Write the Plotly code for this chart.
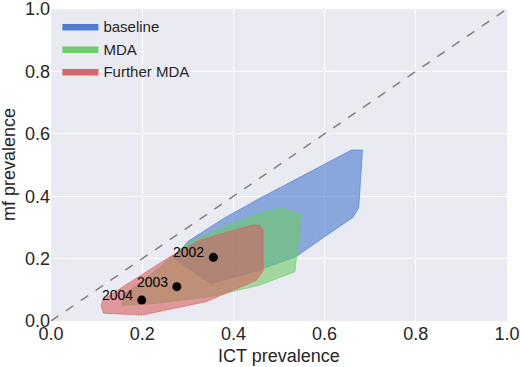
import plotly.graph_objects as go

# data
baseline_x = [0.27, 0.30, 0.38, 0.459, 0.659, 0.683, 0.675, 0.662, 0.60, 0.537, 0.45, 0.35, 0.27]
baseline_y = [0.20, 0.255, 0.33, 0.394, 0.548, 0.548, 0.364, 0.332, 0.27, 0.206, 0.16, 0.12, 0.20]
mda_x = [0.155, 0.16, 0.22, 0.30, 0.40, 0.458, 0.485, 0.509, 0.548, 0.535, 0.458, 0.35, 0.22, 0.155]
mda_y = [0.05, 0.085, 0.15, 0.25, 0.315, 0.346, 0.356, 0.361, 0.342, 0.158, 0.115, 0.078, 0.055, 0.05]
further_x = [0.11, 0.114, 0.158, 0.261, 0.327, 0.443, 0.458, 0.465, 0.465, 0.45, 0.34, 0.2, 0.115, 0.11]
further_y = [0.05, 0.067, 0.11, 0.206, 0.26, 0.308, 0.306, 0.29, 0.16, 0.13, 0.062, 0.019, 0.025, 0.05]
years = ["2002", "2003", "2004"]
ict = [0.356, 0.276, 0.199]
mf = [0.204, 0.110, 0.067]
tick_vals = [0, 0.2, 0.4, 0.6, 0.8, 1.0]
tick_text = ["0.0", "0.2", "0.4", "0.6", "0.8", "1.0"]

FONT = "Liberation Sans, Arial, sans-serif"
fig = go.Figure()

fig.add_trace(go.Scatter(x=[0, 1], y=[0, 1], mode="lines",
                         line=dict(color="#808080", dash="dash", width=1.5),
                         showlegend=False, hoverinfo="skip"))

series = [
    ("baseline", baseline_x, baseline_y, (72, 120, 207)),
    ("MDA", mda_x, mda_y, (106, 204, 101)),
    ("Further MDA", further_x, further_y, (214, 95, 95)),
]
for name, xs, ys, (r, g, b) in series:
    fig.add_trace(go.Scatter(x=xs, y=ys, mode="lines", fill="toself", name=name,
                             legendgroup=name, showlegend=False,
                             fillcolor=f"rgba({r},{g},{b},0.6)",
                             line=dict(color=f"rgba({r},{g},{b},0.6)", width=1)))
# legend entries with solid patches
for name, xs, ys, (r, g, b) in series:
    fig.add_trace(go.Scatter(x=[None], y=[None], mode="lines", fill="toself", name=name,
                             legendgroup=name, showlegend=True,
                             fillcolor=f"rgba({r},{g},{b},0.95)",
                             line=dict(color=f"rgba({r},{g},{b},0.95)", width=1)))

fig.add_trace(go.Scatter(x=ict, y=mf, mode="markers",
                         marker=dict(color="black", size=9), showlegend=False))

for yr, xv, yv in zip(years, ict, mf):
    fig.add_annotation(x=xv, y=yv, text=yr, showarrow=False, xanchor="right",
                       yanchor="middle", xshift=-7, yshift=5,
                       font=dict(family=FONT, size=14, color="black"))

# axis titles
fig.add_annotation(text="ICT prevalence", xref="paper", yref="paper", x=0.5, y=0,
                   yshift=-35, xanchor="center", yanchor="middle", showarrow=False,
                   font=dict(family=FONT, size=18, color="#262626"))
fig.add_annotation(text="mf prevalence", xref="paper", yref="paper", x=0, y=0.5,
                   xshift=-42, xanchor="center", yanchor="middle", showarrow=False,
                   textangle=-90, font=dict(family=FONT, size=18, color="#262626"))

axis_common = dict(range=[0, 1], tickvals=tick_vals, ticktext=tick_text,
                   showgrid=True, gridcolor="white", gridwidth=1.2,
                   zeroline=False, showline=False, ticks="", automargin=False,
                   ticklabeloverflow="allow",
                   tickfont=dict(family=FONT, size=18, color="#262626"))

fig.update_layout(
    width=520, height=367,
    margin=dict(l=51, r=13, t=9, b=46),
    paper_bgcolor="white", plot_bgcolor="#EAEAF2",
    font=dict(family=FONT, color="#262626"),
    xaxis=dict(**axis_common),
    yaxis=dict(**axis_common),
    legend=dict(x=0.014, y=0.996, xanchor="left", yanchor="top", itemwidth=36,
                bgcolor="rgba(0,0,0,0)", font=dict(family=FONT, size=15, color="#262626"),
                tracegroupgap=0),
)

fig.write_html("out.html", config={"displayModeBar": False},
               post_script="document.body.style.margin='0';")
